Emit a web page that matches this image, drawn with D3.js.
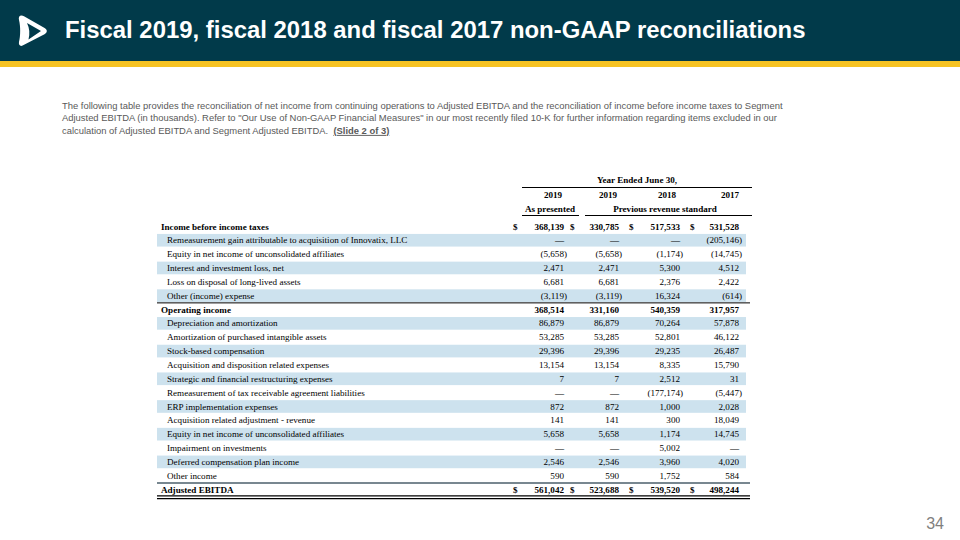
<!DOCTYPE html>
<html><head><meta charset="utf-8">
<script src="https://cdn.jsdelivr.net/npm/d3@7"></script>
<style>
html,body{margin:0;padding:0;background:#fff;}
svg{display:block;}
</style></head>
<body>
<svg id="c" width="960" height="540"></svg>
<script>
// ---------- data ----------
const title = "Fiscal 2019, fiscal 2018 and fiscal 2017 non-GAAP reconciliations";
const introLines = [
  "The following table provides the reconciliation of net income from continuing operations to Adjusted EBITDA and the reconciliation of income before income taxes to Segment",
  "Adjusted EBITDA (in thousands). Refer to \"Our Use of Non-GAAP Financial Measures\" in our most recently filed 10-K for further information regarding items excluded in our",
  "calculation of Adjusted EBITDA and Segment Adjusted EBITDA.  "
];
const introLink = "(Slide 2 of 3)";
const pageNumber = "34";

const periodHeader = "Year Ended June 30,";
const columnYears = ["2019", "2019", "2018", "2017"];
const basisHeaders = ["As presented", "Previous revenue standard"];

const rowLabels = [
  "Income before income taxes",
  "Remeasurement gain attributable to acquisition of Innovatix, LLC",
  "Equity in net income of unconsolidated affiliates",
  "Interest and investment loss, net",
  "Loss on disposal of long-lived assets",
  "Other (income) expense",
  "Operating income",
  "Depreciation and amortization",
  "Amortization of purchased intangible assets",
  "Stock-based compensation",
  "Acquisition and disposition related expenses",
  "Strategic and financial restructuring expenses",
  "Remeasurement of tax receivable agreement liabilities",
  "ERP implementation expenses",
  "Acquisition related adjustment - revenue",
  "Equity in net income of unconsolidated affiliates",
  "Impairment on investments",
  "Deferred compensation plan income",
  "Other income",
  "Adjusted EBITDA"
];
const values2019AsPresented = [368139, null, -5658, 2471, 6681, -3119, 368514, 86879, 53285, 29396, 13154, 7, null, 872, 141, 5658, null, 2546, 590, 561042];
const values2019Previous    = [330785, null, -5658, 2471, 6681, -3119, 331160, 86879, 53285, 29396, 13154, 7, null, 872, 141, 5658, null, 2546, 590, 523688];
const values2018            = [517533, null, -1174, 5300, 2376, 16324, 540359, 70264, 52801, 29235, 8335, 2512, -177174, 1000, 300, 1174, 5002, 3960, 1752, 539520];
const values2017            = [531528, -205146, -14745, 4512, 2422, -614, 317957, 57878, 46122, 26487, 15790, 31, -5447, 2028, 18049, 14745, null, 4020, 584, 498244];
const boldRows = [0, 6, 19];
const dollarRows = [0, 19];
const ruleAboveRows = [6, 19];

// ---------- layout ----------
const svg = d3.select("#c");
const seriesCols = [values2019AsPresented, values2019Previous, values2018, values2017];
const colIdx = d3.range(seriesCols.length);

// header band
svg.append("rect").attr("x", 0).attr("y", 0).attr("width", 960).attr("height", 61).attr("fill", "#013a4a");
svg.append("rect").attr("x", 0).attr("y", 61).attr("width", 960).attr("height", 6).attr("fill", "#f6c324");

// logo
const logo = svg.append("g").attr("transform", "translate(18,15)");
logo.append("path")
  .attr("d", "M3.5,0.5 C1.2,0.5 0.4,2.5 1,5 C2.6,11 2.6,21 1,27 C0.4,29.8 2,31.6 4.6,30.6 L26.5,19.2 C29.6,17.6 29.6,14.6 26.6,13 L6,1.2 C5.2,0.7 4.3,0.5 3.5,0.5 Z")
  .attr("fill", "#ffffff");
logo.append("path")
  .attr("d", "M9,8 L23,16 L10.5,24.5 C12,19 11.6,13 9,8 Z")
  .attr("fill", "#013a4a");

// title
svg.append("text").attr("x", 65).attr("y", 37.5)
  .attr("font-family", "Liberation Sans, Arial, sans-serif").attr("font-weight", "bold")
  .attr("font-size", 23.9).attr("fill", "#ffffff")
  .text(title);

// intro paragraph
const intro = svg.append("g").attr("font-family", "Liberation Sans, Arial, sans-serif")
  .attr("font-size", 9.42).attr("fill", "#595959");
introLines.forEach((ln, i) => {
  const t = intro.append("text").attr("x", 62).attr("y", 108.5 + i * 12.7).attr("xml:space", "preserve").text(ln);
  if (i === introLines.length - 1) {
    t.append("tspan").attr("font-weight", "bold").attr("text-decoration", "underline").text(introLink);
  }
});

// page number
svg.append("text").attr("x", 944).attr("y", 529).attr("text-anchor", "end")
  .attr("font-family", "Liberation Sans, Arial, sans-serif").attr("font-size", 16).attr("fill", "#7f7f7f")
  .text(pageNumber);

// table scales
const y = d3.scaleLinear().domain([0, rowLabels.length - 1]).range([226.4, 489.6]);
const rowH = y(1) - y(0);
const xRight = d3.scaleOrdinal().domain(colIdx).range([564, 619, 680, 739]);
const xDollar = d3.scaleOrdinal().domain(colIdx).range([513, 570, 629, 690]);
const xCenter = d3.scaleOrdinal().domain(colIdx).range([553, 608, 667, 730]);
const tableLeft = 157, tableRight = 750;
const fmt = d3.format(",");
const fmtVal = v => v === null ? "\u2014" : (v < 0 ? "(" + fmt(-v) + ")" : fmt(v));

const tbl = svg.append("g").attr("font-family", "Liberation Serif, 'Times New Roman', serif")
  .attr("font-size", 9.1).attr("fill", "#000");

// shaded bands
tbl.selectAll("rect.band").data(rowLabels.map((d, i) => i).filter(i => i % 2 === 1 && i < rowLabels.length - 1))
  .enter().append("rect").attr("class", "band")
  .attr("x", tableLeft).attr("width", 746 - tableLeft)
  .attr("y", i => y(i) - rowH / 2 + 0.6).attr("height", rowH - 1.2)
  .attr("fill", "#cde2ee");

// header
tbl.append("text").attr("x", 637).attr("y", 183).attr("text-anchor", "middle").attr("font-weight", "bold").text(periodHeader);
tbl.append("line").attr("x1", 522).attr("x2", 752).attr("y1", 187.5).attr("y2", 187.5).attr("stroke", "#000").attr("stroke-width", 1);
tbl.selectAll("text.yr").data(columnYears).enter().append("text").attr("class", "yr")
  .attr("x", (d, i) => xCenter(i)).attr("y", 198).attr("text-anchor", "middle").attr("font-weight", "bold").text(d => d);
tbl.append("text").attr("x", 550).attr("y", 211.5).attr("text-anchor", "middle").attr("font-weight", "bold").text(basisHeaders[0]);
tbl.append("text").attr("x", 665).attr("y", 211.5).attr("text-anchor", "middle").attr("font-weight", "bold").text(basisHeaders[1]);
[[522, 579], [585, 752]].forEach(s =>
  tbl.append("line").attr("x1", s[0]).attr("x2", s[1]).attr("y1", 215.5).attr("y2", 215.5).attr("stroke", "#000").attr("stroke-width", 1));

// rules
ruleAboveRows.forEach(i =>
  tbl.append("line").attr("x1", tableLeft).attr("x2", tableRight).attr("y1", y(i) - rowH / 2 + 0.3).attr("y2", y(i) - rowH / 2 + 0.3)
    .attr("stroke", i === 19 ? "#4b5f6b" : "#000").attr("stroke-width", i === 19 ? 1.6 : 1));
const lastY = y(rowLabels.length - 1) + rowH / 2;
tbl.append("line").attr("x1", tableLeft).attr("x2", tableRight).attr("y1", lastY - 0.6).attr("y2", lastY - 0.6).attr("stroke", "#000").attr("stroke-width", 1.2);
tbl.append("line").attr("x1", tableLeft).attr("x2", tableRight).attr("y1", lastY + 2).attr("y2", lastY + 2).attr("stroke", "#000").attr("stroke-width", 1.2);

// rows
const rows = tbl.selectAll("g.row").data(rowLabels).enter().append("g").attr("class", "row")
  .attr("transform", (d, i) => `translate(0,${y(i) + 3.1})`)
  .attr("font-weight", (d, i) => boldRows.includes(i) ? "bold" : "normal");
rows.append("text").attr("x", (d, i) => boldRows.includes(i) ? 161 : 167).text(d => d);
colIdx.forEach(c => {
  rows.append("text")
    .attr("x", (d, i) => xRight(c) + (seriesCols[c][i] !== null && seriesCols[c][i] < 0 ? 3 : 0))
    .attr("text-anchor", "end")
    .text((d, i) => fmtVal(seriesCols[c][i]));
  rows.filter((d, i) => dollarRows.includes(i)).append("text")
    .attr("x", xDollar(c)).text("$");
});
</script>
</body></html>
